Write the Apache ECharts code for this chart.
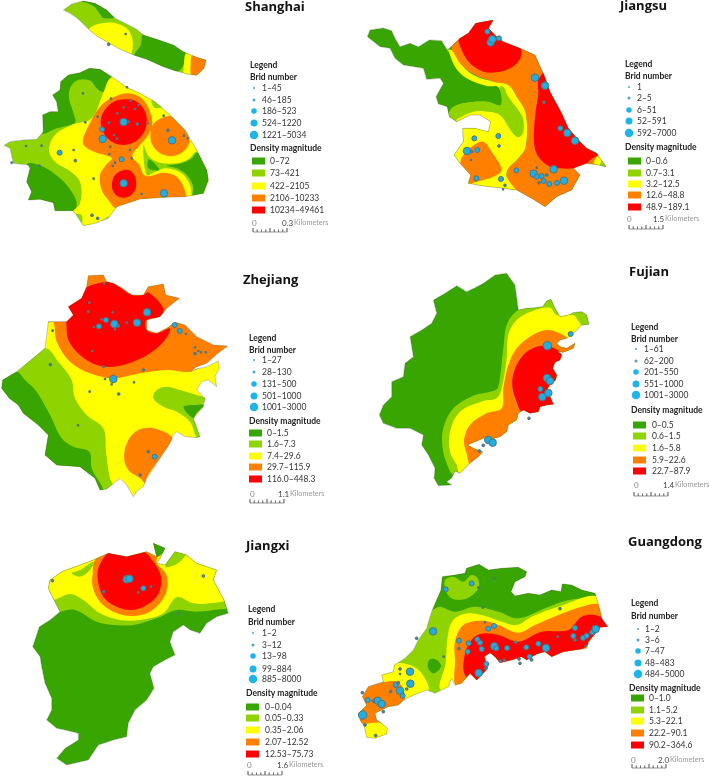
<!DOCTYPE html>
<html><head><meta charset="utf-8">
<style>html,body{margin:0;padding:0;background:#fff}#c{width:709px;height:778px}</style>
<script src="https://cdn.jsdelivr.net/npm/echarts@6/dist/echarts.min.js"></script>
</head><body><div id="c"></div>
<script>
const bandColors=['#38a500','#8fd400','#ffff00','#ff8000','#ff0000'];
// ---- Shanghai
const chongmingOutline=[[190,30],[215,12],[250,3],[285,10],[320,30],[345,55],[375,70],[410,88],[430,105],[470,118],[520,135],[550,155],[590,172],[618,180],[612,205],[590,226],[560,222],[525,212],[490,200],[440,178],[400,165],[355,145],[320,125],[290,108],[268,90],[250,72],[232,55],[210,40]];
const chongmingBands=[[1,chongmingOutline],
[0,[[235,0],[262,0],[290,8],[320,28],[345,52],[310,54],[298,40],[280,18]]],
[2,[[265,92],[285,75],[320,68],[355,72],[385,90],[398,125],[390,165],[355,150],[320,130],[290,112]]],
[0,[[430,100],[470,112],[520,130],[556,155],[545,205],[525,216],[490,205],[440,185],[403,168],[422,135]]],
[2,[[558,160],[580,165],[572,228],[552,225],[552,195]]],
[3,[[578,165],[625,175],[620,210],[590,232],[574,226],[572,195]]]];
const shanghaiOutline=[[12,436],[30,425],[70,420],[110,418],[130,395],[128,345],[150,335],[175,335],[170,305],[158,285],[180,270],[182,245],[205,225],[240,218],[268,205],[300,208],[335,230],[380,262],[420,280],[465,305],[510,345],[555,390],[590,450],[620,510],[625,540],[610,580],[555,590],[490,592],[420,597],[350,620],[325,655],[285,670],[250,677],[225,640],[218,632],[165,632],[160,608],[120,598],[85,600],[95,575],[80,545],[90,505],[85,495],[40,490],[30,445]];
const shanghaiBands=[[1,shanghaiOutline],
[0,[[125,400],[120,340],[170,200],[345,200],[335,232],[310,275],[290,265],[275,245],[250,238],[225,245],[210,265],[207,295],[222,345],[225,368],[170,385]]],
[0,[[80,495],[125,498],[180,535],[215,575],[230,610],[218,640],[80,640]]],
[2,[[335,232],[400,240],[640,420],[640,600],[350,640],[250,690],[245,645],[215,640],[240,610],[240,545],[205,510],[165,485],[147,450],[165,405],[215,375],[275,355],[310,278]]],
[1,[[430,435],[447,470],[480,488],[530,490],[565,478],[592,455],[640,520],[640,600],[582,600],[570,555],[545,520],[500,505],[465,515],[440,525]]],
[0,[[592,458],[640,510],[640,600],[582,600],[578,555],[560,525],[530,505],[500,498],[545,490],[575,475]]],
[0,[[447,478],[478,510],[445,505]]],
[1,[[455,300],[495,318],[470,325],[460,320]]],
[3,[[248,425],[262,385],[300,320],[340,292],[385,280],[425,295],[450,335],[457,375],[445,405],[420,435],[397,468],[418,495],[432,525],[452,528],[490,518],[530,530],[552,565],[556,600],[490,600],[420,605],[350,625],[325,600],[305,570],[300,525],[318,495],[335,474],[290,458],[262,445]]],
[3,[[452,395],[462,370],[490,352],[520,350],[545,375],[568,420],[555,450],[520,468],[480,460],[455,430]]],
[4,[[372,298],[405,302],[428,322],[440,355],[435,390],[415,418],[385,433],[350,432],[322,415],[305,385],[303,355],[318,325],[342,305]]],
[4,[[372,510],[395,515],[408,540],[405,570],[385,590],[360,592],[340,575],[336,550],[345,525]]]];
const shanghaiPoints=[[371,366,3],[308,417,3],[306,388,2],[516,421,3],[179,458,2],[365,478,2],[371,550,3],[492,580,3],[226,482,1],[276,646,1],[293,655,1],[249,280,0],[78,438,0],[125,437,0],[221,450,0],[281,536,0],[377,102,0],[326,133,1],[381,262,0],[392,302,0],[333,296,0],[371,322,0],[405,327,0],[416,315,0],[352,340,0],[293,350,0],[256,367,0],[327,368,0],[386,365,0],[412,372,1],[445,370,0],[491,347,0],[504,391,1],[552,407,0],[563,415,0],[342,405,0],[350,416,0],[331,440,0],[328,462,0],[390,450,0],[395,475,0],[345,488,0],[338,498,0],[425,582,0],[35,488,0],[118,497,0]];
// ---- Jiangsu
const jiangsuOutline=[[22,110],[30,90],[70,84],[95,92],[105,115],[120,140],[150,130],[175,140],[208,120],[245,122],[262,150],[300,115],[325,100],[347,70],[400,60],[385,85],[410,110],[430,125],[480,145],[525,165],[552,225],[570,275],[605,340],[625,385],[655,420],[680,445],[710,460],[738,500],[715,495],[680,490],[640,505],[660,525],[635,570],[590,590],[555,620],[520,598],[470,570],[430,565],[370,558],[325,550],[332,525],[300,490],[282,465],[310,425],[308,385],[345,385],[385,395],[392,365],[360,345],[330,345],[290,365],[268,350],[262,320],[235,312],[228,290],[250,250],[240,235],[200,238],[190,205],[130,195],[105,175],[90,145],[60,140]];
const jiangsuBands=[[0,jiangsuOutline],
[3,[[275,150],[300,100],[400,50],[540,150],[760,480],[660,640],[470,640],[440,530],[445,505],[470,480],[497,440],[497,340],[470,290],[445,255],[400,245],[340,222],[300,190]]],
[2,[[262,152],[275,150],[300,190],[340,225],[400,245],[445,255],[470,290],[497,340],[497,440],[470,480],[445,505],[440,530],[475,590],[300,590],[270,460],[300,370],[268,350]]],
[1,[[260,350],[275,325],[310,310],[380,305],[420,315],[418,262],[430,260],[445,290],[487,350],[490,395],[475,412],[455,395],[420,345],[385,335],[340,335],[295,355],[280,365]]],
[0,[[262,152],[285,200],[320,235],[380,258],[415,262],[422,315],[380,305],[310,310],[275,325],[260,350]]],
[4,[[296,110],[340,50],[420,50],[483,148],[478,180],[450,205],[410,217],[370,215],[330,190],[305,150]]],
[4,[[535,240],[560,215],[640,360],[720,455],[690,480],[680,492],[640,505],[600,505],[570,500],[535,470],[522,430],[525,350],[535,280]]],
[3,[[300,490],[305,472],[335,440],[370,425],[395,455],[425,510],[400,530],[350,545],[325,550],[290,500]]],
[2,[[705,478],[720,465],[745,482],[718,500],[703,495]]],
[1,[[730,478],[745,505],[720,500]]]];
const jiangsuPoints=[[382,95,2],[392,127,3],[397,118,3],[417,115,2],[525,233,3],[555,257,3],[552,307,1],[601,385,2],[622,399,3],[645,422,3],[343,415,2],[415,408,2],[417,438,1],[321,453,3],[335,455,1],[352,450,2],[333,480,0],[469,511,2],[521,521,3],[530,530,2],[545,528,2],[560,525,1],[581,508,3],[530,503,0],[551,543,2],[537,548,1],[568,552,2],[591,549,2],[612,542,3],[423,537,2],[435,556,1],[429,568,0],[349,535,2]];
// ---- Zhejiang
const zhejiangOutline=[[265,32],[310,30],[320,50],[340,55],[370,72],[395,90],[430,90],[445,65],[490,57],[497,90],[538,100],[500,130],[480,155],[440,165],[440,195],[470,205],[500,190],[525,172],[555,180],[590,215],[640,240],[682,243],[650,268],[620,295],[590,305],[570,320],[590,312],[620,305],[655,288],[658,310],[645,335],[650,365],[625,345],[605,350],[590,375],[615,400],[610,425],[580,460],[600,515],[590,518],[555,515],[530,500],[520,510],[510,535],[480,580],[440,640],[430,665],[410,680],[400,695],[380,660],[360,640],[320,672],[300,675],[285,640],[240,605],[170,600],[135,570],[145,510],[115,480],[70,445],[55,420],[28,400],[5,370],[8,345],[50,320],[135,250],[145,170],[160,170],[200,170],[220,150],[205,125],[245,100],[260,65]];
const zhejiangBands=[[2,zhejiangOutline],
[1,[[50,320],[135,250],[175,290],[215,345],[225,400],[260,450],[310,490],[318,560],[330,640],[345,680],[0,680],[0,345]]],
[0,[[0,370],[0,340],[50,320],[75,345],[110,380],[150,450],[185,520],[220,545],[268,560],[275,610],[305,680],[100,680]]],
[3,[[140,172],[160,172],[170,230],[210,290],[270,325],[340,340],[420,325],[500,315],[570,320],[620,295],[700,230],[560,10],[200,10],[140,120]]],
[4,[[258,68],[310,52],[340,55],[395,90],[430,90],[445,82],[490,130],[480,155],[440,165],[440,195],[470,205],[510,190],[495,225],[450,265],[400,290],[340,305],[290,300],[240,270],[205,225],[198,170],[190,150],[200,120],[245,90]]],
[1,[[460,400],[470,375],[500,365],[540,375],[590,390],[620,400],[610,415],[580,420],[550,425],[580,460],[605,520],[590,518],[570,470],[530,440],[490,425]]],
[0,[[550,425],[580,420],[612,420],[590,445],[580,460]]],
[3,[[372,575],[385,525],[415,495],[460,490],[515,515],[510,535],[480,580],[440,640],[445,665],[420,640],[385,615]]]];
const zhejiangPoints=[[441,142,3],[411,173,3],[318,165,2],[343,177,3],[297,184,2],[355,183,1],[345,193,0],[282,186,0],[305,163,0],[380,173,0],[268,113,0],[265,140,0],[338,142,0],[313,55,0],[524,180,2],[539,198,2],[558,207,0],[585,266,1],[585,247,0],[595,258,0],[603,262,0],[617,262,0],[158,197,0],[277,258,0],[151,299,1],[311,305,0],[430,315,1],[340,342,3],[315,342,0],[335,358,0],[402,352,0],[269,380,0],[356,387,1],[234,481,0],[445,560,1],[464,575,2],[421,630,1]];
// ---- Fujian
const fujianOutline=[[58,450],[70,420],[95,395],[95,350],[130,335],[135,295],[160,275],[150,215],[185,195],[215,175],[230,145],[220,105],[255,85],[290,62],[320,80],[345,68],[370,55],[405,30],[440,25],[465,60],[470,95],[475,135],[500,130],[525,128],[548,125],[560,108],[573,103],[585,130],[600,155],[625,150],[640,143],[665,140],[680,150],[687,178],[665,180],[655,190],[640,205],[620,220],[600,225],[590,235],[600,245],[620,250],[645,235],[640,250],[620,258],[610,262],[590,258],[605,268],[600,285],[585,292],[578,310],[590,330],[587,345],[570,358],[560,375],[570,395],[580,418],[560,420],[540,425],[535,440],[510,445],[490,435],[475,445],[470,465],[445,480],[440,500],[420,515],[395,522],[370,520],[345,530],[322,540],[345,552],[368,560],[355,575],[335,590],[320,603],[300,625],[285,618],[275,640],[260,650],[275,660],[235,662],[222,640],[225,610],[205,570],[185,540],[190,510],[150,490],[110,490],[70,475]];
const fujianBands=[[0,fujianOutline],
[1,[[478,133],[525,120],[570,95],[700,140],[700,460],[340,640],[280,630],[262,600],[248,550],[250,490],[280,430],[340,392],[400,378],[415,365],[430,250],[442,175]]],
[2,[[520,137],[570,128],[590,150],[640,150],[662,178],[700,220],[700,460],[340,640],[300,630],[290,600],[270,560],[270,500],[300,440],[370,408],[410,400],[425,370],[440,280],[445,210],[470,165]]],
[3,[[640,232],[600,205],[560,195],[510,215],[470,250],[445,300],[430,370],[425,430],[380,445],[330,480],[312,525],[320,565],[335,600],[700,460],[700,260]]],
[4,[[612,268],[570,245],[530,245],[490,270],[462,320],[457,365],[470,410],[487,440],[600,440],[640,300]]]];
const fujianPoints=[[632,207,2],[562,242,4],[561,339,3],[570,348,3],[541,372,2],[565,384,3],[547,396,3],[507,460,1],[385,525,3],[398,533,3],[370,541,1],[358,558,1]];
// ---- Jiangxi
const jiangxiOutline=[[145,235],[150,210],[185,185],[240,165],[280,150],[325,130],[380,140],[440,125],[470,140],[460,100],[495,115],[480,145],[470,160],[495,165],[525,125],[560,135],[590,160],[650,180],[640,210],[672,270],[685,310],[650,320],[620,340],[600,370],[570,360],[550,345],[520,365],[510,395],[525,435],[495,450],[460,470],[450,490],[462,535],[440,570],[405,600],[385,640],[380,680],[340,690],[295,705],[265,750],[200,765],[170,745],[195,715],[235,690],[235,670],[195,660],[170,655],[140,630],[155,600],[155,565],[135,520],[125,470],[120,440],[98,410],[118,350],[150,330],[180,305],[162,270]];
const jiangxiBands=[[0,jiangxiOutline],
[1,[[130,310],[180,305],[225,300],[290,335],[345,345],[400,345],[470,325],[530,300],[585,305],[640,300],[700,285],[700,100],[130,100]]],
[2,[[130,275],[162,270],[210,252],[250,270],[300,310],[360,330],[420,330],[490,310],[530,262],[580,280],[630,280],[700,258],[660,120],[475,120],[440,100],[130,120]]],
[1,[[215,190],[240,180],[280,155],[270,180],[240,200]]],
[1,[[495,170],[525,120],[558,130],[540,155],[510,170]]],
[0,[[450,95],[500,95],[495,120],[470,140]]],
[3,[[285,150],[325,125],[380,135],[440,120],[470,135],[470,160],[497,190],[503,225],[490,265],[450,305],[395,318],[340,305],[300,275],[278,230],[278,190]]],
[4,[[295,175],[330,125],[380,135],[430,125],[460,155],[480,190],[483,225],[470,260],[430,290],[385,300],[340,285],[310,260],[295,220]]]];
const jiangxiPoints=[[157,212,1],[380,208,3],[388,206,3],[430,235,2],[453,230,0],[415,247,0],[311,245,1],[610,198,1],[535,312,0]];
// ---- Guangdong
const guangdongOutline=[[232,300],[258,240],[262,200],[300,195],[330,190],[335,175],[372,163],[400,180],[440,175],[490,172],[515,185],[510,200],[480,215],[468,245],[480,258],[520,250],[555,255],[590,240],[618,245],[622,222],[650,225],[680,240],[720,250],[725,265],[735,300],[740,325],[758,350],[735,352],[720,372],[700,395],[695,415],[660,420],[625,425],[590,440],[570,425],[545,432],[515,450],[500,440],[470,450],[435,458],[420,440],[405,428],[388,440],[398,475],[385,490],[365,510],[345,490],[320,520],[300,525],[290,505],[280,530],[240,550],[215,540],[190,550],[165,560],[150,567],[130,585],[100,590],[80,600],[60,610],[65,630],[80,640],[97,655],[95,672],[60,685],[35,682],[28,650],[15,630],[12,610],[35,585],[22,560],[40,530],[85,515],[80,495],[115,485],[118,465],[150,445],[175,420],[190,390],[215,355],[225,320]];
const guangdongBands=[[1,guangdongOutline],
[0,[[225,300],[255,190],[330,170],[370,155],[530,170],[740,240],[722,260],[640,270],[570,295],[490,325],[430,305],[360,290],[300,305],[255,290]]],
[1,[[272,240],[270,210],[295,200],[325,215],[350,195],[368,205],[370,235],[345,260],[310,270],[285,262]]],
[0,[[218,470],[225,448],[245,450],[258,470],[235,490]]],
[2,[[258,540],[272,460],[278,380],[295,330],[340,310],[390,318],[440,335],[485,345],[530,320],[610,290],[730,260],[770,350],[600,460],[380,530]]],
[3,[[305,530],[300,450],[300,395],[325,345],[385,332],[430,345],[490,368],[540,345],[610,315],[680,290],[735,285],[770,350],[600,460],[380,530]]],
[4,[[330,495],[328,440],[345,395],[375,372],[430,375],[490,395],[560,365],[640,360],[680,320],[730,318],[770,350],[600,460],[380,530]]],
[2,[[70,495],[115,485],[118,460],[165,465],[200,490],[220,545],[150,575],[130,517],[85,515]]],
[3,[[0,620],[0,600],[20,540],[85,517],[130,517],[150,565],[130,590],[80,605],[65,625],[85,640],[40,640],[20,640]]],
[2,[[25,650],[45,640],[85,640],[100,655],[100,675],[60,690],[30,685]]]];
const guangdongPoints=[[350,220,2],[272,238,2],[418,205,0],[370,233,0],[383,293,0],[615,296,1],[234,364,3],[185,385,1],[417,348,2],[400,356,2],[390,337,0],[312,392,2],[312,416,1],[341,400,2],[338,425,2],[367,388,2],[375,398,2],[380,417,2],[418,409,3],[424,415,2],[456,414,2],[482,397,1],[514,412,2],[550,401,2],[573,414,3],[608,380,0],[660,354,2],[655,378,2],[660,390,1],[684,384,2],[695,377,2],[712,367,2],[722,357,3],[692,408,0],[266,440,0],[394,462,2],[392,475,1],[371,489,3],[436,453,1],[448,451,1],[492,447,1],[495,460,1],[524,440,2],[530,450,1],[165,485,3],[166,521,3],[135,477,1],[135,492,0],[122,525,2],[130,518,1],[107,545,1],[135,542,3],[155,537,1],[143,557,2],[68,572,3],[55,573,1],[80,582,3],[38,570,2],[22,548,1],[23,615,4],[30,645,1],[62,677,1],[85,605,1]];
// ---- legend labels
const shanghaiBirds=['1–45','46–185','186–523','524–1220','1221–5034'];
const shanghaiDensity=['0–72','73–421','422–2105','2106–10233','10234–49461'];
const jiangsuBirds=['1','2–5','6–51','52–591','592–7000'];
const jiangsuDensity=['0–0.6','0.7–3.1','3.2–12.5','12.6–48.8','48.9–189.1'];
const zhejiangBirds=['1–27','28–130','131–500','501–1000','1001–3000'];
const zhejiangDensity=['0–1.5','1.6–7.3','7.4–29.6','29.7–115.9','116.0–448.3'];
const fujianBirds=['1–61','62–200','201–550','551–1000','1001–3000'];
const fujianDensity=['0–0.5','0.6–1.5','1.6–5.8','5.9–22.6','22.7–87.9'];
const jiangxiBirds=['1–2','3–12','13–98','99–884','885–8000'];
const jiangxiDensity=['0–0.04','0.05–0.33','0.35–2.06','2.07–12.52','12.53–75.73'];
const guangdongBirds=['1–2','3–6','7–47','48–483','484–5000'];
const guangdongDensity=['0–1.0','1.1–5.2','5.3–22.1','22.2–90.1','90.2–364.6'];

const pointSizes=[1.7,2.7,5,7.5,8.5];
const legendSizes=[2,3,5.5,7,8.5];
const panels=[
 {name:'Shanghai',box:[0,0,240,260],range:[720,780],layers:[[chongmingOutline,chongmingBands],[shanghaiOutline,shanghaiBands]],points:shanghaiPoints,birds:shanghaiBirds,density:shanghaiDensity,km:'0.3',
  title:[245,7],head:[250,65,77],mx:254,tx:262,by:[88,100,111,123,135],dh:[250,148],sx:252,dx:270,dy:[161,173,186,198,210],sc:[252,223,282,253,232]},
 {name:'Jiangsu',box:[360,0,260,260],range:[780,780],layers:[[jiangsuOutline,jiangsuBands]],points:jiangsuPoints,birds:jiangsuBirds,density:jiangsuDensity,km:'1.5',
  title:[620,6],head:[625,64,76],mx:629,tx:637,by:[87,98,110,121,133],dh:[625,147],sx:628,dx:646,dy:[161,173,184,195,207],sc:[627,219,653,629,229]},
 {name:'Zhejiang',box:[0,265,350,240],range:[1050,720],layers:[[zhejiangOutline,zhejiangBands]],points:zhejiangPoints,birds:zhejiangBirds,density:zhejiangDensity,km:'1.1',
  title:[243,280],head:[249,338,350],mx:254,tx:262,by:[360,372,384,396,407],dh:[249,421],sx:249,dx:267,dy:[433,444,456,467,479],sc:[250,494,278,250,503]},
 {name:'Fujian',box:[360,265,349,240],range:[1047,720],layers:[[fujianOutline,fujianBands]],points:fujianPoints,birds:fujianBirds,density:fujianDensity,km:'1.4',
  title:[629,272],head:[631,327,339],mx:636,tx:644,by:[349,361,372,384,395],dh:[631,410],sx:633,dx:652,dy:[425,436,448,460,471],sc:[634,485,663,634,496]},
 {name:'Jiangxi',box:[0,510,350,268],range:[1050,804],layers:[[jiangxiOutline,jiangxiBands]],points:jiangxiPoints,birds:jiangxiBirds,density:jiangxiDensity,km:'1.6',
  title:[246,546],head:[248,609,622],mx:253,tx:262,by:[633,645,656,669,679],dh:[246,693],sx:246,dx:265,dy:[707,718,730,742,754],sc:[247,765,277,248,775]},
 {name:'Guangdong',box:[355,510,354,268],range:[1062,804],layers:[[guangdongOutline,guangdongBands]],points:guangdongPoints,birds:guangdongBirds,density:guangdongDensity,km:'2.0',
  title:[628,542],head:[631,603,616],mx:638,tx:645,by:[629,640,651,663,674],dh:[629,688],sx:631,dx:649,dy:[698,710,721,733,745],sc:[631,760,658,632,768]}
];
const FONT='Lato,"Open Sans",sans-serif';
const grid=[],xAxis=[],yAxis=[],series=[],graphic=[];
function txt(x,y,s,size,weight,color,font){graphic.push({type:'text',x:x,y:y,silent:true,style:{text:s,font:`${weight} ${size}px ${font||FONT}`,fill:color,textVerticalAlign:'middle',textAlign:'left'}});}
panels.forEach((p,i)=>{
 grid.push({left:p.box[0],top:p.box[1],width:p.box[2],height:p.box[3]});
 xAxis.push({type:'value',gridIndex:i,min:0,max:p.range[0],show:false});
 yAxis.push({type:'value',gridIndex:i,min:0,max:p.range[1],inverse:true,show:false});
 p.layers.forEach(([outline,bands])=>{
  series.push({type:'custom',name:p.name,xAxisIndex:i,yAxisIndex:i,coordinateSystem:'cartesian2d',silent:true,clip:false,z:1,
   data:bands.map((b,k)=>[k]),
   encode:{x:0,y:0},
   renderItem:(params,api)=>{
    const b=bands[params.dataIndex];
    const toPx=a=>a.map(q=>api.coord(q));
    const isBase=params.dataIndex===0;
    return {type:'polygon',shape:{points:toPx(b[1]),smooth:isBase?0:0.35},
     style:{fill:bandColors[b[0]],stroke:null},
     clipPath:{type:'polygon',shape:{points:toPx(outline)}}};
   }});
  series.push({type:'custom',name:p.name+' outline',xAxisIndex:i,yAxisIndex:i,coordinateSystem:'cartesian2d',silent:true,clip:false,z:2,
   data:[[0]],encode:{x:0,y:0},
   renderItem:(params,api)=>({type:'polygon',shape:{points:outline.map(q=>api.coord(q))},style:{fill:'none',stroke:'rgba(50,60,40,0.45)',lineWidth:0.6}})});
 });
 series.push({type:'scatter',name:p.name+' birds',xAxisIndex:i,yAxisIndex:i,z:3,silent:true,clip:false,
  data:p.points.map(q=>[q[0],q[1],q[2]]),
  symbolSize:v=>pointSizes[v[2]],
  itemStyle:{color:o=>o.value[2]<2?'#4b8395':'#22aee0',borderColor:'#4e7482',borderWidth:1,opacity:1}});
 // title + legend
 txt(p.title[0],p.title[1],p.name,13,'700','#111','"Open Sans",sans-serif');
 txt(p.head[0],p.head[1],'Legend',8.5,'700','#222');
 txt(p.head[0],p.head[2],'Brid number',8.5,'700','#222');
 p.birds.forEach((s,k)=>{
  graphic.push({type:'circle',silent:true,shape:{cx:p.mx,cy:p.by[k],r:legendSizes[k]/2},style:{fill:k<2?'#4aa6c4':'#1db4ea'}});
  txt(p.tx,p.by[k],s,8.5,'400','#333');
 });
 txt(p.dh[0],p.dh[1],'Density magnitude',8.5,'700','#222');
 p.density.forEach((s,k)=>{
  graphic.push({type:'rect',silent:true,shape:{x:p.sx,y:p.dy[k]-3.5,width:13,height:7},style:{fill:bandColors[k]}});
  txt(p.dx,p.dy[k],s,8.5,'400','#333');
 });
 const sc=p.sc;
 txt(sc[0],sc[1],'0',8,'400','#888');
 txt(sc[2],sc[1],p.km,8,'400','#444');
 txt(sc[2]+12,sc[1],'Kilometers',7.3,'400','#999');
 const ticks=[];for(let t=0;t<=8;t++){const x=sc[3]+t*34/8,h=(t%4===0?4:2.5);ticks.push([x,sc[4]],[x,sc[4]-h],[x,sc[4]]);}
 graphic.push({type:'polyline',silent:true,shape:{points:ticks},style:{fill:'none',stroke:'#666',lineWidth:0.7}});
});
const chart=echarts.init(document.getElementById('c'),null,{renderer:'canvas'});
chart.setOption({animation:false,backgroundColor:'#fff',grid,xAxis,yAxis,series,graphic:{elements:graphic}});
</script></body></html>
